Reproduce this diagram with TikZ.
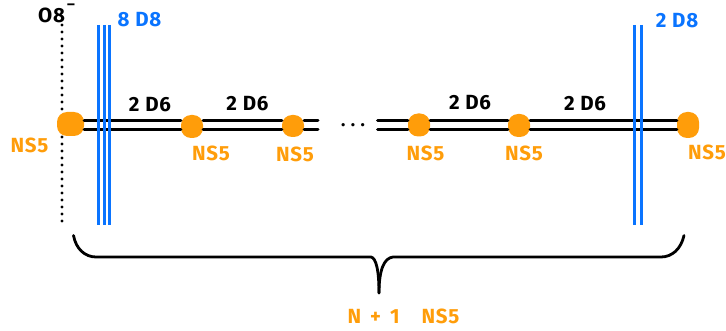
\documentclass[tikz,border=0pt]{standalone}
\usepackage{fontspec}
\setmainfont{Fira Sans}
\definecolor{nsorange}{HTML}{FF9D0A}
\definecolor{dblue}{HTML}{0A74FF}
\tikzset{
  blob/.style={fill=nsorange,draw=none,rectangle,rounded corners=10pt,inner sep=0pt},
  brane/.style={draw=black,line width=3pt,line cap=round},
  dbrane/.style={draw=dblue,line width=3pt},
  orient/.style={draw=black,line width=3.3pt,line cap=round,dash pattern=on 0pt off 7pt},
  brace/.style={draw=black,line width=2.8pt,line cap=round},
  lab/.style={inner sep=0pt,font=\fontsize{20.5}{20}\selectfont\bfseries\addfontfeature{LetterSpace=4}},
  blk/.style={lab,text=black},
  blu/.style={lab,text=dblue},
  org/.style={lab,text=nsorange}
}
\begin{document}
\begin{tikzpicture}[x=1pt,y=-1pt]
\useasboundingbox (0,0) rectangle (726,331);
% helpers
\coordinate (top) at (0,120.7);
\coordinate (bot) at (0,129.7);
\coordinate (ot) at (62,25);
\coordinate (ob) at (62,225);
\draw[orient] (ot) -- (ob);
% NS5 blobs
\node[blob,minimum width=27pt,minimum height=24pt] (n1) at (70.5,124) {};
\node[blob,minimum width=22pt,minimum height=23pt] (n2) at (192,126.5) {};
\node[blob,minimum width=22pt,minimum height=22pt] (n3) at (293,126) {};
\node[blob,minimum width=22pt,minimum height=23pt] (n4) at (419,125) {};
\node[blob,minimum width=22pt,minimum height=23pt] (n5) at (519,125.5) {};
\node[blob,minimum width=22pt,minimum height=26pt] (n6) at (688,125) {};
\coordinate (e1) at (318,120.7);
\coordinate (e2) at (377.5,120.7);
% D6 pairs
\foreach \r in {top,bot}{
  \draw[brane] (n1.east |- \r) -- (n2.west |- \r);
  \draw[brane] (n2.east |- \r) -- (n3.west |- \r);
  \draw[brane] (n3.east |- \r) -- (e1 |- \r);
  \draw[brane] (e2 |- \r) -- (n4.west |- \r);
  \draw[brane] (n4.east |- \r) -- (n5.west |- \r);
  \draw[brane] (n5.east |- \r) -- (n6.west |- \r);
}
% D8
\foreach \i/\x in {a/98.5,b/104,c/109.5,d/634,e/641}{
  \coordinate (\i t) at (\x,25);
  \coordinate (\i b) at (\x,225.5);
  \draw[dbrane] (\i t) -- (\i b);
}
% dots
\node[inner sep=0pt,font=\fontsize{18}{18}\selectfont\bfseries] (dots) at (353,125) {.\hspace{5.5pt}.\hspace{5.5pt}.};
% brace
\coordinate (bl) at (73.5,235.5);
\coordinate (br) at (684,235.5);
\coordinate (bm) at (379,293);
\draw[brace] (bl) .. controls (76,249) and (85,257) .. (96,257) -- (371,257)
  .. controls (376,258) and (379,270) .. (bm);
\draw[brace] (br) .. controls (681,249) and (672,257) .. (661,257) -- (393,257)
  .. controls (384,258) and (379,270) .. (bm);
% labels
\node[blk,anchor=base] (l1) at (51.5,22.5) {O8};
\node[inner sep=0pt,font=\fontsize{15}{15}\selectfont\bfseries,anchor=base] (minus) at (71,10) {–};
\node[blu] (l2) at (139.5,20) {8 D8};
\node[blu] (l3) at (677,21) {2 D8};
\node[blk] (d1) at (150,104.5) {2 D6};
\node[blk] (d2) at (247.5,103.5) {2 D6};
\node[blk] (d3) at (470,102.5) {2 D6};
\node[blk] (d4) at (585,103.5) {2 D6};
\node[org] (s1) at (29.5,145) {NS5};
\node[org] (s2) at (211,153) {NS5};
\node[org] (s3) at (295,154) {NS5};
\node[org] (s4) at (425.5,153.5) {NS5};
\node[org] (s5) at (524,153.5) {NS5};
\node[org] (s6) at (707,152.5) {NS5};
\node[org] (s7) at (403.5,316) {N\hspace{9pt}+\hspace{9pt}1\hspace{22pt}NS5};
\end{tikzpicture}
\end{document}
